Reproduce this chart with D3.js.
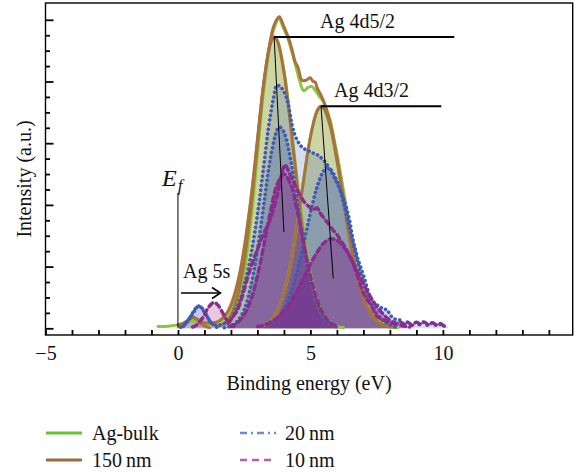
<!DOCTYPE html>
<html><head><meta charset="utf-8">
<script src="https://cdn.jsdelivr.net/npm/d3@7"></script>
<style>body{margin:0;background:#fff}svg{display:block}text{font-family:"Liberation Serif","Times New Roman",serif;fill:#111}</style>
</head><body>
<script>
// ---------- data ----------
const xTickLabels = [-5, 0, 5, 10];
const legendLabels = ["Ag-bulk", "150\u2009nm", "20\u2009nm", "10\u2009nm"];
// total spectra [binding energy, intensity]
const bulkTotal = [[-0.75,0.03],[-0.5,0.03],[-0.25,0.04],[0.0,0.06],[0.25,0.09],[0.5,0.12],[0.75,0.1],[1.0,0.07],[1.25,0.07],[1.5,0.09],[1.7,0.14],[1.9,0.25],[2.1,0.45],[2.3,0.78],[2.5,1.25],[2.7,1.9],[2.9,2.65],[3.1,3.45],[3.3,4.15],[3.5,4.65],[3.7,4.95],[3.82,5.03],[3.95,4.9],[4.15,4.7],[4.3,4.48],[4.45,4.25],[4.6,4.0],[4.75,3.85],[4.9,3.9],[5.05,3.92],[5.2,3.85],[5.35,3.75],[5.48,3.68],[5.6,3.56],[5.75,3.36],[5.93,2.98],[6.1,2.6],[6.25,2.22],[6.4,1.85],[6.55,1.45],[6.7,1.12],[6.85,0.82],[7.0,0.6],[7.2,0.38],[7.4,0.22],[7.6,0.12],[7.8,0.06],[8.0,0.03],[8.3,0.01]];
const nm150Total = [[0.0,0.05],[0.2,0.08],[0.4,0.14],[0.57,0.18],[0.75,0.14],[0.95,0.09],[1.2,0.09],[1.45,0.1],[1.65,0.15],[1.85,0.25],[2.0,0.38],[2.2,0.65],[2.4,1.05],[2.6,1.6],[2.8,2.25],[3.0,3.05],[3.2,3.85],[3.4,4.45],[3.6,4.88],[3.75,5.02],[3.83,5.05],[3.97,4.92],[4.16,4.72],[4.31,4.51],[4.42,4.32],[4.53,4.23],[4.68,4.02],[4.84,4.02],[4.99,4.06],[5.1,4.0],[5.18,3.99],[5.25,3.9],[5.36,3.81],[5.48,3.7],[5.6,3.55],[5.75,3.32],[5.93,2.92],[6.1,2.5],[6.25,2.1],[6.4,1.7],[6.55,1.32],[6.7,0.98],[6.85,0.72],[7.0,0.5],[7.2,0.3],[7.4,0.17],[7.6,0.09],[7.8,0.05],[8.0,0.03],[8.2,0.02]];
const nm20Total = [[0.2,0.03],[0.5,0.2],[0.79,0.36],[1.05,0.23],[1.3,0.07],[1.5,0.05],[1.7,0.07],[1.96,0.13],[2.15,0.27],[2.34,0.46],[2.5,0.7],[2.64,0.94],[2.78,1.25],[2.91,1.59],[3.05,2.0],[3.17,2.4],[3.3,2.85],[3.4,3.21],[3.5,3.48],[3.59,3.7],[3.74,3.94],[3.85,3.92],[3.97,3.86],[4.12,3.7],[4.22,3.5],[4.31,3.29],[4.4,3.15],[4.5,3.05],[4.6,2.98],[4.72,2.92],[4.87,2.89],[5.0,2.86],[5.1,2.84],[5.23,2.82],[5.36,2.78],[5.55,2.7],[5.74,2.57],[5.93,2.42],[6.12,2.24],[6.25,2.1],[6.38,1.92],[6.5,1.7],[6.61,1.43],[6.7,1.27],[6.8,1.11],[6.93,0.95],[7.06,0.78],[7.15,0.64],[7.25,0.51],[7.4,0.42],[7.55,0.37],[7.63,0.35],[7.75,0.31],[7.9,0.3],[8.0,0.22],[8.12,0.17],[8.25,0.14],[8.39,0.13],[8.5,0.08],[8.65,0.1],[8.8,0.05],[8.95,0.09],[9.1,0.06],[9.25,0.1],[9.4,0.05],[9.55,0.08],[9.7,0.05],[9.85,0.07],[10.0,0.04],[10.2,0.03]];
const nm10Total = [[1.9,0.08],[2.1,0.2],[2.25,0.3],[2.45,0.55],[2.6,0.78],[2.8,1.05],[3.0,1.28],[3.25,1.55],[3.5,1.78],[3.65,2.0],[3.8,2.25],[3.92,2.5],[4.04,2.65],[4.2,2.52],[4.35,2.38],[4.5,2.25],[4.62,2.15],[4.8,2.03],[4.95,1.97],[5.1,1.92],[5.25,1.95],[5.35,1.88],[5.5,1.79],[5.7,1.68],[5.86,1.59],[6.0,1.52],[6.15,1.42],[6.3,1.32],[6.5,1.16],[6.65,1.0],[6.8,0.82],[7.0,0.57],[7.15,0.46],[7.3,0.36],[7.5,0.2],[7.7,0.15],[7.85,0.12],[8.0,0.1],[8.2,0.07],[8.4,0.1],[8.55,0.06],[8.7,0.09],[8.85,0.05],[9.0,0.1],[9.15,0.07],[9.3,0.1],[9.45,0.06],[9.6,0.09],[9.75,0.06],[9.9,0.08],[10.0,0.05]];
// fitted components
const bulk5d52 = [[1.75,0.05],[2.0,0.15],[2.25,0.4],[2.5,0.9],[2.75,1.72],[3.0,2.82],[3.25,3.91],[3.5,4.62],[3.63,4.72],[3.75,4.66],[4.0,4.18],[4.25,3.36],[4.5,2.41],[4.75,1.55],[5.0,0.89],[5.25,0.46],[5.5,0.21],[5.75,0.09],[6.0,0.03],[6.25,0.01]];
const bulk4d32 = [[3.25,0.05],[3.5,0.12],[3.75,0.28],[4.0,0.57],[4.25,1.04],[4.5,1.68],[4.75,2.42],[5.0,3.1],[5.25,3.52],[5.4,3.6],[5.5,3.57],[5.75,3.31],[6.0,2.81],[6.25,2.18],[6.5,1.56],[6.75,1.02],[7.0,0.61],[7.25,0.34],[7.5,0.17],[7.75,0.08],[8.0,0.03],[8.25,0.01]];
const nm150d52 = [[1.5,0.03],[1.75,0.08],[2.0,0.22],[2.25,0.53],[2.5,1.09],[2.75,1.94],[3.0,2.99],[3.25,4.0],[3.5,4.63],[3.63,4.72],[3.75,4.66],[4.0,4.15],[4.25,3.29],[4.5,2.32],[4.75,1.46],[5.0,0.81],[5.25,0.4],[5.5,0.18],[5.75,0.07],[6.0,0.02]];
const nm150d32 = [[3.25,0.05],[3.5,0.12],[3.75,0.28],[4.0,0.57],[4.25,1.04],[4.5,1.68],[4.75,2.42],[5.0,3.1],[5.25,3.52],[5.4,3.6],[5.5,3.57],[5.75,3.27],[6.0,2.72],[6.25,2.05],[6.5,1.4],[6.75,0.87],[7.0,0.49],[7.25,0.25],[7.5,0.11],[7.75,0.05],[8.0,0.02]];
const nm150s = [[0.1,0.02],[0.3,0.07],[0.45,0.15],[0.57,0.17],[0.7,0.15],[0.85,0.08],[1.0,0.04],[1.2,0.01]];
const nm20d52 = [[1.75,0.01],[2.0,0.04],[2.25,0.12],[2.5,0.3],[2.75,0.68],[3.0,1.27],[3.25,2.04],[3.5,2.78],[3.75,3.22],[3.85,3.26],[4.0,3.18],[4.25,2.74],[4.5,2.06],[4.75,1.36],[5.0,0.78],[5.25,0.39],[5.5,0.17],[5.75,0.07],[6.0,0.02]];
const nm20d32 = [[3.5,0.07],[3.75,0.15],[4.0,0.31],[4.25,0.56],[4.5,0.93],[4.75,1.38],[5.0,1.87],[5.25,2.29],[5.5,2.55],[5.65,2.6],[5.75,2.58],[6.0,2.39],[6.25,2.03],[6.5,1.58],[6.75,1.13],[7.0,0.74],[7.25,0.44],[7.5,0.24],[7.75,0.12],[8.0,0.06],[8.25,0.02]];
const nm20s = [[0.1,0.02],[0.25,0.06],[0.4,0.14],[0.55,0.25],[0.7,0.34],[0.79,0.36],[0.9,0.33],[1.05,0.23],[1.2,0.12],[1.35,0.05],[1.5,0.01]];
const nm10d52 = [[2.0,0.03],[2.25,0.09],[2.5,0.22],[2.75,0.46],[3.0,0.85],[3.25,1.36],[3.5,1.91],[3.75,2.34],[4.0,2.5],[4.25,2.34],[4.5,1.91],[4.75,1.36],[5.0,0.85],[5.25,0.46],[5.5,0.22],[5.75,0.09],[6.0,0.03]];
const nm10d32 = [[3.0,0.03],[3.25,0.05],[3.5,0.1],[3.75,0.17],[4.0,0.28],[4.25,0.42],[4.5,0.61],[4.75,0.82],[5.0,1.04],[5.25,1.23],[5.5,1.38],[5.75,1.45],[5.82,1.45],[6.0,1.43],[6.25,1.32],[6.5,1.15],[6.75,0.94],[7.0,0.72],[7.25,0.52],[7.5,0.35],[7.75,0.23],[8.0,0.13],[8.25,0.08],[8.5,0.04],[8.75,0.02]];
const nm10s = [[0.55,0.02],[0.7,0.05],[0.85,0.12],[1.0,0.22],[1.15,0.34],[1.36,0.42],[1.5,0.38],[1.65,0.28],[1.8,0.16],[1.95,0.08],[2.1,0.03]];
// annotations [energy, intensity]
const peakMarks = [{label:"Ag 4d5/2", top:[3.63,4.72], bottom:[4.0,1.56], end:10.43, text:[5.36,4.87]},
                   {label:"Ag 4d3/2", top:[5.4,3.6], bottom:[5.86,0.81], end:9.94, text:[5.89,3.75]}];

// ---------- drawing ----------
const W = 574, H = 473;
const svg = d3.select("body").append("svg").attr("width", W).attr("height", H);
const x = d3.scaleLinear().domain([-5, 14.9]).range([45.5, 572.7]);
const y = d3.scaleLinear().domain([0, 5]).range([328.3, 19.8]);
const yTop = 3, yBot = 335;

const line = d3.line().x(d => x(d[0])).y(d => y(d[1])).curve(d3.curveCatmullRom.alpha(0.5));
const area = d3.area().x(d => x(d[0])).y0(y(0)).y1(d => y(d[1])).curve(d3.curveCatmullRom.alpha(0.5));

const C = {green:"#8cc63f", brown:"#a7733c", blue:"#3f5ab2", purple:"#8a2c8c"};

const plot = svg.append("g");
const fills = [
  [bulk5d52, "rgba(140,198,63,0.35)"], [bulk4d32, "rgba(140,198,63,0.35)"],
  [nm150d52, "rgba(167,115,60,0.18)"], [nm150d32, "rgba(167,115,60,0.18)"], [nm150s, "rgba(167,115,60,0.3)"],
  [nm20Total.filter(d => d[0] > 1.6), "rgba(70,100,190,0.22)"],
  [nm20d52, "rgba(60,90,180,0.3)"], [nm20d32, "rgba(60,90,180,0.3)"], [nm20s, "rgba(110,115,215,0.4)"],
  [nm10d52, "rgba(125,35,140,0.45)"], [nm10d32, "rgba(125,35,140,0.45)"], [nm10s, "rgba(205,130,185,0.45)"]
];
fills.forEach(([d, c]) => plot.append("path").attr("d", area(d)).attr("fill", c));

function stroke(d, col, w, dash) {
  const p = plot.append("path").attr("d", line(d)).attr("fill", "none").attr("stroke", col)
    .attr("stroke-width", w).attr("stroke-linejoin", "round").attr("stroke-linecap", "round");
  if (dash) p.attr("stroke-dasharray", dash);
}
[bulk5d52, bulk4d32, bulkTotal].forEach(d => stroke(d, C.green, 3));
[nm150d52, nm150d32, nm150s, nm150Total].forEach(d => stroke(d, C.brown, 3));
[nm20d52, nm20d32, nm20s, nm20Total].forEach(d => stroke(d, C.blue, 3.6, "0.1,4.6"));
[nm10d52, nm10d32, nm10s, nm10Total].forEach(d => stroke(d, C.purple, 3.4, "5,4"));

// annotations
peakMarks.forEach(m => {
  plot.append("line").attr("x1", x(m.top[0])).attr("y1", y(m.top[1])).attr("x2", x(m.end)).attr("y2", y(m.top[1]))
    .attr("stroke", "#000").attr("stroke-width", 2);
  plot.append("line").attr("x1", x(m.top[0])).attr("y1", y(m.top[1])).attr("x2", x(m.bottom[0])).attr("y2", y(m.bottom[1]))
    .attr("stroke", "#000").attr("stroke-width", 1);
  svg.append("text").attr("x", x(m.text[0])).attr("y", y(m.text[1])).attr("font-size", 20).text(m.label);
});
// Fermi level
svg.append("line").attr("x1", x(0)).attr("x2", x(0)).attr("y1", 193).attr("y2", y(0)).attr("stroke", "#000").attr("stroke-width", 1);
const ef = svg.append("text").attr("x", 162).attr("y", 186).attr("font-size", 24).attr("font-style", "italic");
ef.append("tspan").text("E");
ef.append("tspan").attr("dx", 1).attr("dy", 5).attr("font-size", 17).text("f");
// Ag 5s
svg.append("text").attr("x", 183).attr("y", 278).attr("font-size", 20).text("Ag 5s");
svg.append("line").attr("x1", 181).attr("x2", 220).attr("y1", 293).attr("y2", 293).attr("stroke", "#000").attr("stroke-width", 1.6);
svg.append("path").attr("d", "M212,287.5 L220.5,293 L212,298.5").attr("fill", "none").attr("stroke", "#000").attr("stroke-width", 1.6);

// frame & axes
svg.append("rect").attr("x", x(-5)).attr("y", yTop).attr("width", x(14.9) - x(-5)).attr("height", yBot - yTop)
  .attr("fill", "none").attr("stroke", "#000").attr("stroke-width", 1.4);
const xa = svg.append("g").attr("transform", `translate(0,${yBot})`)
  .call(d3.axisBottom(x).tickValues(d3.range(-5, 15, 1)).tickSize(-5)
    .tickFormat(d => xTickLabels.includes(d) ? d3.format("")(d) : ""));
xa.select(".domain").remove();
xa.selectAll("line").attr("stroke-width", 1.8);
xa.selectAll("text").attr("y", 25).attr("dy", null).attr("font-size", 20).attr("font-family", "Liberation Serif");
const ya = svg.append("g").attr("transform", `translate(${x(-5)},0)`)
  .call(d3.axisLeft(y).tickValues(d3.range(0, 5.01, 0.25)).tickFormat(""));
ya.select(".domain").remove();
ya.selectAll(".tick line").attr("x2", d => Math.abs(d - Math.round(d)) < 1e-6 ? 8 : 4.5).attr("stroke-width", 1.8);

svg.append("text").attr("x", 309).attr("y", 390).attr("text-anchor", "middle").attr("font-size", 20).text("Binding energy (eV)");
svg.append("text").attr("transform", "translate(31,179) rotate(-90)").attr("text-anchor", "middle").attr("font-size", 20).text("Intensity (a.u.)");

// legend
const leg = [
  {x:46, y:433, col:"#6cbf3c", dash:null, w:3},
  {x:46, y:460, col:"#a0693a", dash:null, w:3},
  {x:240, y:433, col:"#7088cc", dash:"7,4,2,4", w:2.4},
  {x:240, y:460, col:"#b062b4", dash:"7,5", w:2.4}
];
leg.forEach((l, i) => {
  const ln = svg.append("line").attr("x1", l.x).attr("x2", l.x + 36).attr("y1", l.y).attr("y2", l.y)
    .attr("stroke", l.col).attr("stroke-width", l.w);
  if (l.dash) ln.attr("stroke-dasharray", l.dash);
  svg.append("text").attr("x", l.x + (i < 2 ? 46 : 45)).attr("y", l.y + 6.5).attr("font-size", 20).text(legendLabels[i]);
});
</script>
</body></html>
